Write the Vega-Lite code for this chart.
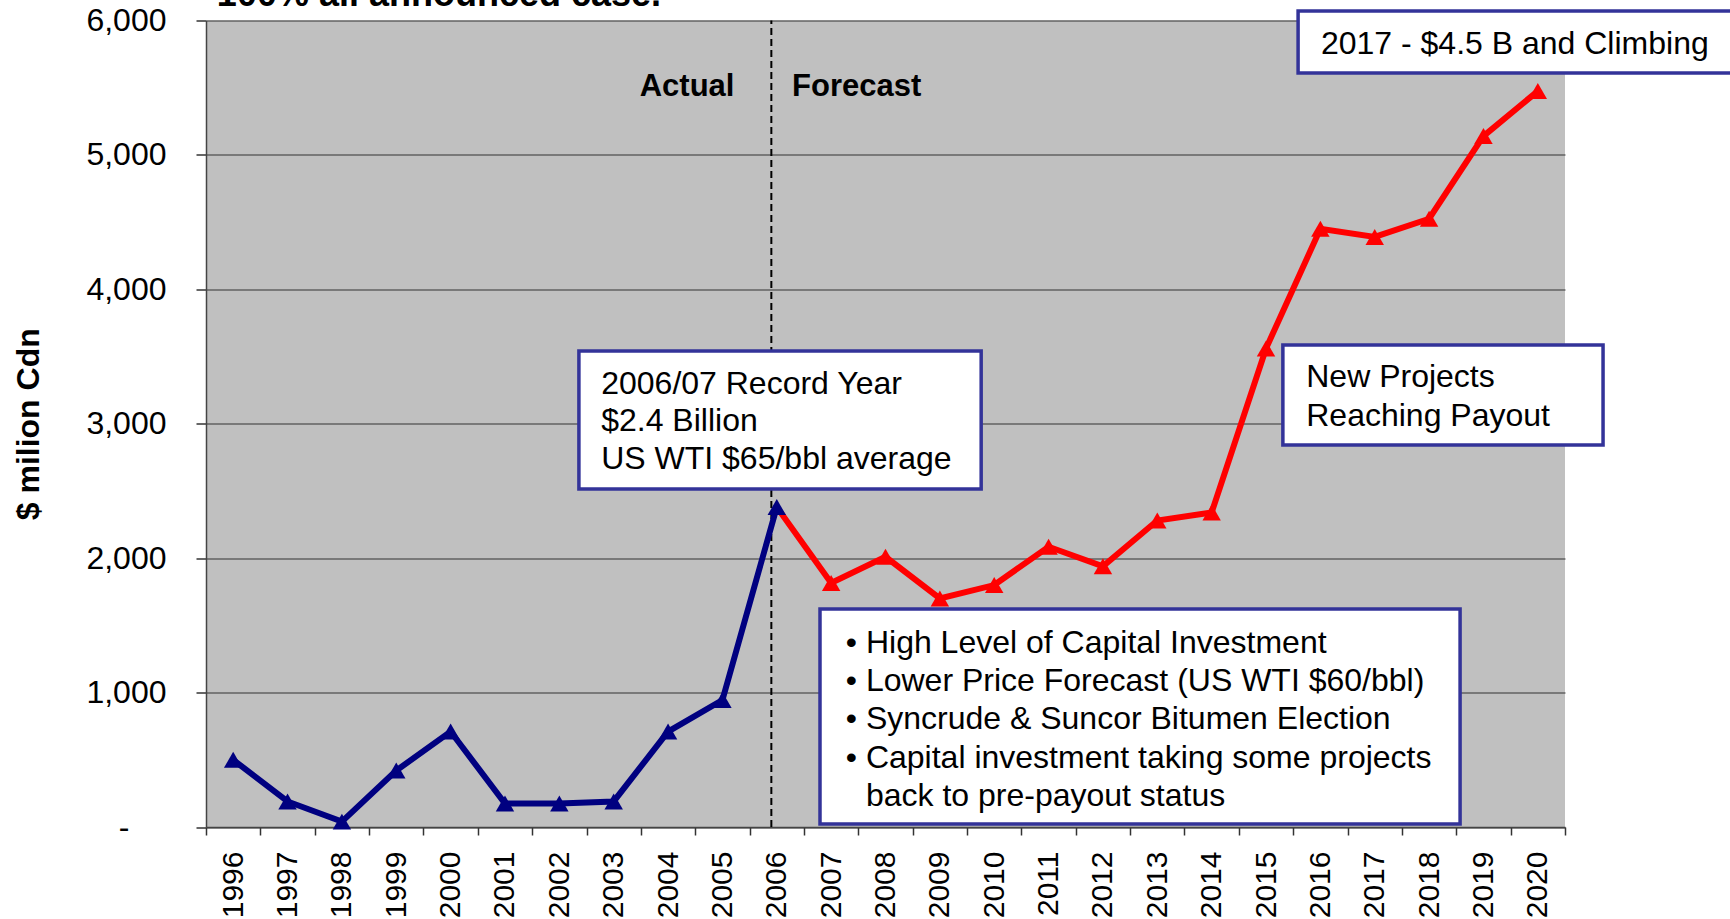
{
  "$schema": "https://vega.github.io/schema/vega-lite/v6.json",
  "width": 1359,
  "height": 806.5,
  "autosize": {"type": "none"},
  "padding": {"left": 206, "top": 20.5, "right": 165, "bottom": 92},
  "background": "white",
  "config": {
    "view": {"fill": "#C0C0C0", "stroke": null},
    "font": "Liberation Sans",
    "text": {"font": "Liberation Sans", "color": "black"}
  },
  "datasets": {
    "series": [
      {"year": 1996, "value": 500, "series": "Actual"},
      {"year": 1997, "value": 190, "series": "Actual"},
      {"year": 1998, "value": 40, "series": "Actual"},
      {"year": 1999, "value": 420, "series": "Actual"},
      {"year": 2000, "value": 710, "series": "Actual"},
      {"year": 2001, "value": 175, "series": "Actual"},
      {"year": 2002, "value": 175, "series": "Actual"},
      {"year": 2003, "value": 190, "series": "Actual"},
      {"year": 2004, "value": 710, "series": "Actual"},
      {"year": 2005, "value": 945, "series": "Actual"},
      {"year": 2006, "value": 2380, "series": "Actual"},
      {"year": 2006, "value": 2380, "series": "Forecast"},
      {"year": 2007, "value": 1815, "series": "Forecast"},
      {"year": 2008, "value": 2010, "series": "Forecast"},
      {"year": 2009, "value": 1700, "series": "Forecast"},
      {"year": 2010, "value": 1800, "series": "Forecast"},
      {"year": 2011, "value": 2085, "series": "Forecast"},
      {"year": 2012, "value": 1940, "series": "Forecast"},
      {"year": 2013, "value": 2280, "series": "Forecast"},
      {"year": 2014, "value": 2340, "series": "Forecast"},
      {"year": 2015, "value": 3560, "series": "Forecast"},
      {"year": 2016, "value": 4450, "series": "Forecast"},
      {"year": 2017, "value": 4390, "series": "Forecast"},
      {"year": 2018, "value": 4525, "series": "Forecast"},
      {"year": 2019, "value": 5140, "series": "Forecast"},
      {"year": 2020, "value": 5475, "series": "Forecast"}
    ],
    "divider": [{"bx": 2005.9}],
    "boxes": [
      {"bx": 2002.36, "bx2": 2009.76, "value": 3541, "value2": 2515},
      {"bx": 2006.795, "bx2": 2018.57, "value": 1622, "value2": 22},
      {"bx": 2015.31, "bx2": 2021.2, "value": 3586, "value2": 2842},
      {"bx": 2015.59, "bx2": 2023.9, "value": 6071, "value2": 5610}
    ],
    "notes": [
      {"bx": 2002.77, "value": 3296, "label": "2006/07 Record Year"},
      {"bx": 2002.77, "value": 3017, "label": "$2.4 Billion"},
      {"bx": 2002.77, "value": 2738, "label": "US WTI $65/bbl average"},
      {"bx": 2007.27, "value": 1369, "label": "• High Level of Capital Investment"},
      {"bx": 2007.27, "value": 1086, "label": "• Lower Price Forecast (US WTI $60/bbl)"},
      {"bx": 2007.27, "value": 804, "label": "• Syncrude & Suncor Bitumen Election"},
      {"bx": 2007.27, "value": 513, "label": "• Capital investment taking some projects"},
      {"bx": 2007.64, "value": 234, "label": "back to pre-payout status"},
      {"bx": 2015.74, "value": 3348, "label": "New Projects"},
      {"bx": 2015.74, "value": 3058, "label": "Reaching Payout"},
      {"bx": 2016.01, "value": 5825, "label": "2017 - $4.5 B and Climbing"}
    ],
    "phases": [
      {"bx": 2004.35, "value": 5506, "label": "Actual"},
      {"bx": 2007.47, "value": 5506, "label": "Forecast"}
    ],
    "heading": [
      {"bx": 1995.7, "value": 6108, "label": "100% all announced case."}
    ]
  },
  "layer": [
    {
      "data": {"name": "divider"},
      "mark": {"type": "rule", "color": "black", "strokeWidth": 2, "strokeDash": [7, 4]},
      "encoding": {
        "x": {"field": "bx", "type": "quantitative", "scale": {"domain": [1995.5, 2020.5], "nice": false, "zero": false}, "axis": null},
        "y": {"datum": 0, "type": "quantitative", "scale": {"domain": [0, 6000], "nice": false}, "axis": null},
        "y2": {"datum": 6000}
      }
    },
    {
      "layer": [
        {
          "data": {"name": "series"},
          "mark": {"type": "line", "strokeWidth": 6},
          "encoding": {
            "x": {"field": "year", "type": "ordinal"},
            "y": {"field": "value", "type": "quantitative"},
            "color": {"field": "series", "type": "nominal", "scale": {"domain": ["Actual", "Forecast"], "range": ["#000080", "#FF0000"]}, "legend": null}
          }
        },
        {
          "data": {"name": "series"},
          "transform": [{"filter": "datum.series == 'Actual' || datum.year != 2006"}],
          "mark": {"type": "point", "shape": "triangle-up", "filled": true, "size": 340, "opacity": 1},
          "encoding": {
            "x": {"field": "year", "type": "ordinal"},
            "y": {"field": "value", "type": "quantitative"},
            "color": {"field": "series", "type": "nominal", "legend": null}
          }
        }
      ],
      "encoding": {
        "x": {
          "field": "year",
          "type": "ordinal",
          "scale": {"paddingInner": 0, "paddingOuter": 0},
          "axis": {
            "title": null,
            "labelAngle": -90,
            "labelFontSize": 30,
            "labelColor": "black",
            "labelPadding": 16,
            "tickBand": "extent",
            "tickSize": 8,
            "tickColor": "#333333",
            "tickWidth": 1.5,
            "domainColor": "#444444",
            "domainWidth": 1.5,
            "grid": false
          }
        },
        "y": {
          "field": "value",
          "type": "quantitative",
          "scale": {"domain": [0, 6000], "nice": false},
          "axis": {
            "title": "$ milion Cdn",
            "titleFontSize": 32,
            "titleFontWeight": "bold",
            "titleColor": "black",
            "titlePadding": 40,
            "values": [0, 1000, 2000, 3000, 4000, 5000, 6000],
            "labelExpr": "datum.value == 0 ? '-' : format(datum.value, ',')",
            "labelFontSize": 32,
            "labelColor": "black",
            "labelPadding": {"condition": {"test": "datum.value == 0", "value": 67}, "value": 30},
            "tickSize": 10,
            "tickColor": "#333333",
            "tickWidth": 1.5,
            "domainColor": "#444444",
            "domainWidth": 1.5,
            "grid": true,
            "gridColor": "#333333",
            "gridWidth": 1
          }
        }
      }
    },
    {
      "layer": [
        {
          "data": {"name": "boxes"},
          "mark": {"type": "rect", "fill": "white", "stroke": "#333399", "strokeWidth": 3.5},
          "encoding": {
            "x": {"field": "bx", "type": "quantitative"},
            "x2": {"field": "bx2"},
            "y": {"field": "value", "type": "quantitative"},
            "y2": {"field": "value2"}
          }
        },
        {
          "data": {"name": "notes"},
          "mark": {"type": "text", "align": "left", "baseline": "middle", "fontSize": 32},
          "encoding": {
            "x": {"field": "bx", "type": "quantitative"},
            "y": {"field": "value", "type": "quantitative"},
            "text": {"field": "label"}
          }
        },
        {
          "data": {"name": "phases"},
          "mark": {"type": "text", "align": "center", "baseline": "middle", "fontSize": 31, "fontWeight": "bold"},
          "encoding": {
            "x": {"field": "bx", "type": "quantitative"},
            "y": {"field": "value", "type": "quantitative"},
            "text": {"field": "label"}
          }
        },
        {
          "data": {"name": "heading"},
          "mark": {"type": "text", "align": "left", "baseline": "alphabetic", "fontSize": 36, "fontWeight": "bold"},
          "encoding": {
            "x": {"field": "bx", "type": "quantitative"},
            "y": {"field": "value", "type": "quantitative"},
            "text": {"field": "label"}
          }
        }
      ],
      "encoding": {
        "x": {"field": "bx", "type": "quantitative", "scale": {"domain": [1995.5, 2020.5], "nice": false, "zero": false}, "axis": null},
        "y": {"field": "value", "type": "quantitative", "scale": {"domain": [0, 6000], "nice": false}, "axis": null}
      }
    }
  ],
  "resolve": {"scale": {"x": "independent"}, "axis": {"x": "independent", "y": "independent"}}
}
